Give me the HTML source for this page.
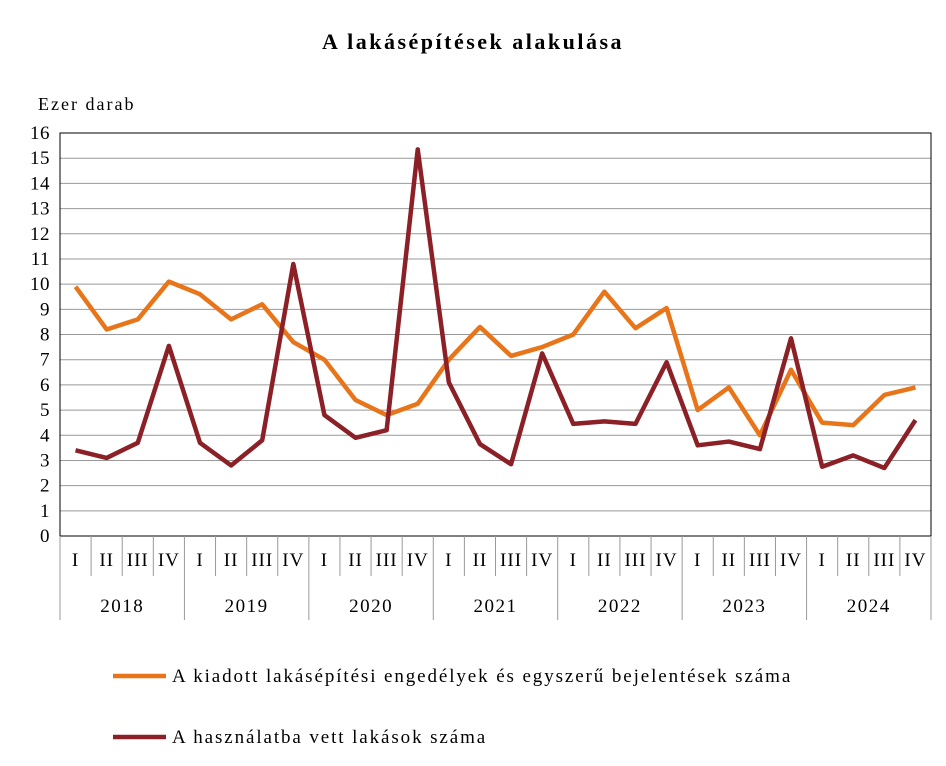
<!DOCTYPE html>
<html><head><meta charset="utf-8"><style>
body{margin:0;background:#fff;}
svg{display:block;font-family:"Liberation Serif",serif;}
</style></head><body>
<svg id="chart" width="946" height="766" viewBox="0 0 946 766">
<text x="473" y="49" text-anchor="middle" font-size="22" font-weight="bold" letter-spacing="2.5">A lakásépítések alakulása</text>
<text x="38" y="110" font-size="18" letter-spacing="2">Ezer darab</text>
<g id="grid"></g><g id="lines"></g><g id="axes"></g>
<g>
<line x1="113" y1="676" x2="166" y2="676" stroke="#E8751A" stroke-width="4.5"/>
<text x="172" y="682" font-size="19" letter-spacing="1.9">A kiadott lakásépítési engedélyek és egyszerű bejelentések száma</text>
<line x1="113" y1="737" x2="166" y2="737" stroke="#8B2027" stroke-width="4.5"/>
<text x="172" y="743" font-size="19" letter-spacing="1.9">A használatba vett lakások száma</text>
</g>
</svg>
<script>
const years=["2018","2019","2020","2021","2022","2023","2024"];
const quarters=["I","II","III","IV"];
const permits=[9.9,8.2,8.6,10.1, 9.6,8.6,9.2,7.7, 7.0,5.4,4.8,5.25, 7.0,8.3,7.15,7.5, 8.0,9.7,8.25,9.05, 5.0,5.9,4.0,6.6, 4.5,4.4,5.6,5.9];
const completed=[3.4,3.1,3.7,7.55, 3.7,2.8,3.8,10.8, 4.8,3.9,4.2,15.35, 6.1,3.65,2.85,7.25, 4.45,4.55,4.45,6.9, 3.6,3.75,3.45,7.85, 2.75,3.2,2.7,4.6];
const yTicks=[0,1,2,3,4,5,6,7,8,9,10,11,12,13,14,15,16];
const L=60,R=931,T=133,B=536,yMax=16;
const n=permits.length,step=(R-L)/n;
const X=i=>L+step*(i+0.5);
const Y=v=>B-(B-T)*v/yMax;
const NS="http://www.w3.org/2000/svg";
function mk(tag,attrs,parent){const e=document.createElementNS(NS,tag);for(const k in attrs)e.setAttribute(k,attrs[k]);parent.appendChild(e);return e;}
const grid=document.getElementById('grid'),axes=document.getElementById('axes'),lines=document.getElementById('lines');
yTicks.forEach(v=>{
  const g=mk('line',{x1:L,x2:R,y1:Y(v),y2:Y(v),stroke:v==0||v==yMax?'#000':'#999','stroke-width':1},grid);
  
  
  const t=mk('text',{x:L-10,y:Y(v)+6,'text-anchor':'end','font-size':19,'letter-spacing':0.5},axes);
  t.textContent=v;
  
  
});
const f=mk('rect',{x:L,y:T,width:R-L,height:B-T,fill:'none',stroke:'#000','stroke-width':1},grid);


for(let i=0;i<=n;i++){
  const x=L+step*i,isYear=i%4==0;
  const d=mk('line',{x1:x,x2:x,y1:B,y2:isYear?620:576,stroke:'#999','stroke-width':1},axes);
  
  
}
for(let i=0;i<n;i++){
  const t=mk('text',{x:X(i),y:566,'text-anchor':'middle','font-size':19,'letter-spacing':1},axes);
  t.textContent=quarters[i%4];
  
  
}
years.forEach((y,j)=>{
  const t=mk('text',{x:L+step*(j*4+2),y:612,'text-anchor':'middle','font-size':19,'letter-spacing':1.5},axes);
  t.textContent=y;
  
  
});
function series(data,color,name){
  const p=mk('polyline',{points:data.map((v,i)=>X(i)+','+Y(v)).join(' '),fill:'none',stroke:color,'stroke-width':4.5,'stroke-linejoin':'round'},lines);
  
  
}
series(permits,'#E8751A','permits-line');
series(completed,'#8B2027','completed-line');
</script>
</body></html>
